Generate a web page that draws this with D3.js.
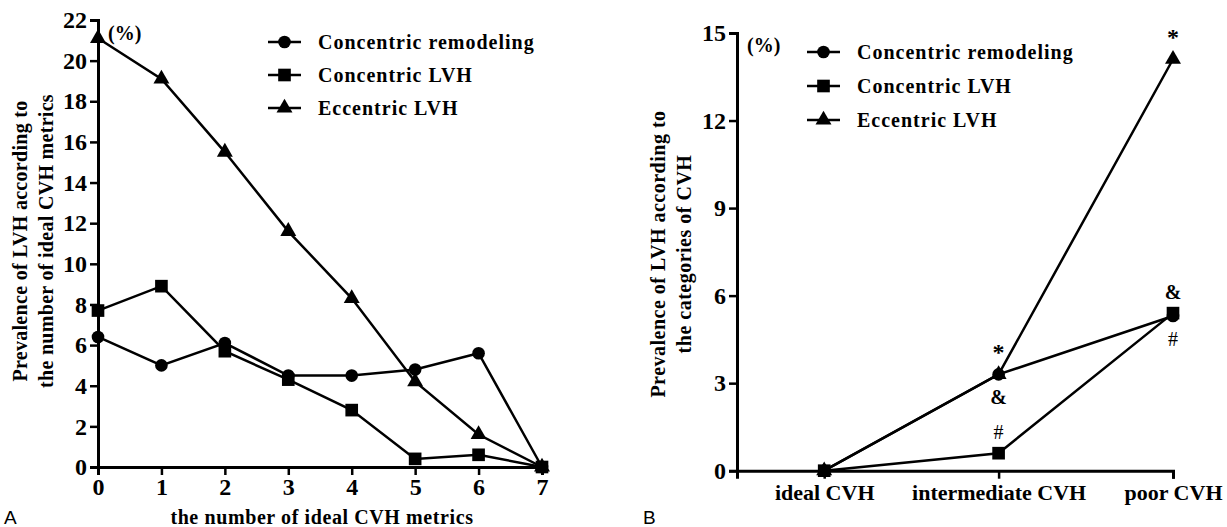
<!DOCTYPE html>
<html><head><meta charset="utf-8">
<script src="https://cdn.jsdelivr.net/npm/d3@7"></script>
<style>
body{margin:0;background:#fff;}
svg text{font-family:"Liberation Serif","Times New Roman",serif;font-weight:bold;fill:#000;}
</style></head>
<body><svg id="c" width="1227" height="527"></svg>
<script>
// ---- Data ----
const seriesNames = ["Concentric remodeling", "Concentric LVH", "Eccentric LVH"];
const seriesSymbols = ["circle", "square", "triangle"];

// Panel A: number of ideal CVH metrics
const metricsCounts = [0, 1, 2, 3, 4, 5, 6, 7];
const aConcentricRemodeling = [6.4, 5.0, 6.1, 4.5, 4.5, 4.8, 5.6, 0];
const aConcentricLVH = [7.7, 8.9, 5.7, 4.3, 2.8, 0.4, 0.6, 0];
const aEccentricLVH = [21.1, 19.1, 15.5, 11.6, 8.3, 4.2, 1.6, 0];
const aYTicks = [0, 2, 4, 6, 8, 10, 12, 14, 16, 18, 20, 22];

// Panel B: categories of CVH
const cvhCategories = ["ideal CVH", "intermediate CVH", "poor CVH"];
const bConcentricRemodeling = [0, 3.3, 5.3];
const bConcentricLVH = [0, 0.6, 5.4];
const bEccentricLVH = [0, 3.3, 14.1];
const bYTicks = [0, 3, 6, 9, 12, 15];
// significance marks: [category index, value, mark, position]
const bMarks = [[1, 3.3, "*", "above"], [1, 3.3, "&", "below"], [1, 0.6, "#", "above"],
                [2, 14.1, "*", "above"], [2, 5.4, "&", "above"], [2, 5.3, "#", "below"]];

const svg = d3.select("#c");
const symMap = {circle: d3.symbolCircle, square: d3.symbolSquare, triangle: d3.symbolTriangle};
const symSize = {circle: 125, square: 160, triangle: 110};

function styleAxis(g, fs) {
  g.select(".domain").attr("stroke", "#000").attr("stroke-width", 3);
  g.selectAll(".tick line").attr("stroke", "#000").attr("stroke-width", 2.5);
  g.selectAll(".tick text").style("font-size", fs + "px").style("font-family", '"Liberation Serif",serif').style("font-weight", "bold");
}

function drawLegend(x0, ys) {
  seriesNames.forEach((n, i) => {
    const g = svg.append("g");
    g.append("line").attr("x1", x0).attr("x2", x0 + 33).attr("y1", ys[i]).attr("y2", ys[i])
      .attr("stroke", "#000").attr("stroke-width", 2.5);
    g.append("path").attr("d", d3.symbol(symMap[seriesSymbols[i]], symSize[seriesSymbols[i]])())
      .attr("transform", `translate(${x0 + 16.5},${ys[i]})`);
    g.append("text").attr("x", x0 + 50).attr("y", ys[i]).attr("dy", "0.35em")
      .style("font-size", "20px").style("letter-spacing", "1px").text(n);
  });
}

function drawSeries(x, y, xs, sets) {
  sets.forEach((vals) => {
    const pts = xs.map((xv, j) => [x(xv), y(vals[j])]);
    svg.append("path").attr("d", d3.line()(pts)).attr("fill", "none")
      .attr("stroke", "#000").attr("stroke-width", 2.5);
  });
  sets.forEach((vals, i) => {
    svg.append("g").selectAll("path").data(xs).join("path")
      .attr("d", d3.symbol(symMap[seriesSymbols[i]], symSize[seriesSymbols[i]])())
      .attr("transform", (d, j) => `translate(${x(d)},${y(vals[j])})`);
  });
}

// ---- Panel A ----
const xA = d3.scaleLinear().domain([0, 7]).range([98, 542]);
const yA = d3.scaleLinear().domain([0, 22]).range([467, 20]);
const gxA = svg.append("g").attr("transform", "translate(0,467)")
  .call(d3.axisBottom(xA).tickValues(metricsCounts).tickFormat(d3.format("d")).tickSizeOuter(0).tickSize(8).tickPadding(3));
styleAxis(gxA, 24);
const gyA = svg.append("g").attr("transform", "translate(98,0)")
  .call(d3.axisLeft(yA).tickValues(aYTicks).tickSizeOuter(0).tickSize(8).tickPadding(3));
styleAxis(gyA, 24);
drawSeries(xA, yA, metricsCounts, [aConcentricRemodeling, aConcentricLVH, aEccentricLVH]);
svg.append("text").attr("x", 108).attr("y", 40).style("font-size", "20px").text("(%)");
drawLegend(268, [42, 75, 108]);
svg.append("text").attr("x", 322).attr("y", 524).attr("text-anchor", "middle")
  .style("font-size", "20px").style("letter-spacing", "0.6px").text("the number of ideal CVH metrics");
const tA = svg.append("text").attr("transform", "translate(0,241) rotate(-90)").attr("text-anchor", "middle")
  .style("font-size", "20px").style("letter-spacing", "0.3px");
tA.append("tspan").attr("x", 0).attr("y", 27).text("Prevalence of LVH according to");
tA.append("tspan").attr("x", 0).attr("y", 53).text("the number of ideal CVH metrics");
svg.append("text").attr("x", 4).attr("y", 524).style("font-family", '"Liberation Sans",Arial,sans-serif')
  .style("font-weight", "normal").style("font-size", "19px").text("A");

// ---- Panel B ----
const xB = d3.scaleLinear().domain([-0.5, 2]).range([737, 1173]);
const yB = d3.scaleLinear().domain([0, 15]).range([470.7, 33]);
const catIdx = cvhCategories.map((c, i) => i);
const gxB = svg.append("g").attr("transform", "translate(0,470.7)")
  .call(d3.axisBottom(xB).tickValues(catIdx).tickFormat(i => cvhCategories[i]).tickSizeOuter(0).tickSize(8).tickPadding(6));
styleAxis(gxB, 22);
const gyB = svg.append("g").attr("transform", "translate(737,0)")
  .call(d3.axisLeft(yB).tickValues(bYTicks).tickSizeOuter(0).tickSize(8).tickPadding(3));
styleAxis(gyB, 24);
drawSeries(xB, yB, catIdx, [bConcentricRemodeling, bConcentricLVH, bEccentricLVH]);
bMarks.forEach(([ci, v, m, pos]) => {
  svg.append("text").attr("x", xB(ci)).attr("y", yB(v) + (pos === "above" ? -14 : 30))
    .attr("text-anchor", "middle").style("font-size", m === "*" ? "24px" : "20px")
    .style("font-weight", m === "#" ? "normal" : "bold").text(m);
});
svg.append("text").attr("x", 747).attr("y", 52).style("font-size", "20px").text("(%)");
drawLegend(807, [52, 86, 120]);
const tB = svg.append("text").attr("transform", "translate(0,254) rotate(-90)").attr("text-anchor", "middle")
  .style("font-size", "20px").style("letter-spacing", "0.5px");
tB.append("tspan").attr("x", 0).attr("y", 665).text("Prevalence of LVH according to");
tB.append("tspan").attr("x", 0).attr("y", 691).text("the categories of CVH");
svg.append("text").attr("x", 643).attr("y", 524).style("font-family", '"Liberation Sans",Arial,sans-serif')
  .style("font-weight", "normal").style("font-size", "19px").text("B");
</script></body></html>
